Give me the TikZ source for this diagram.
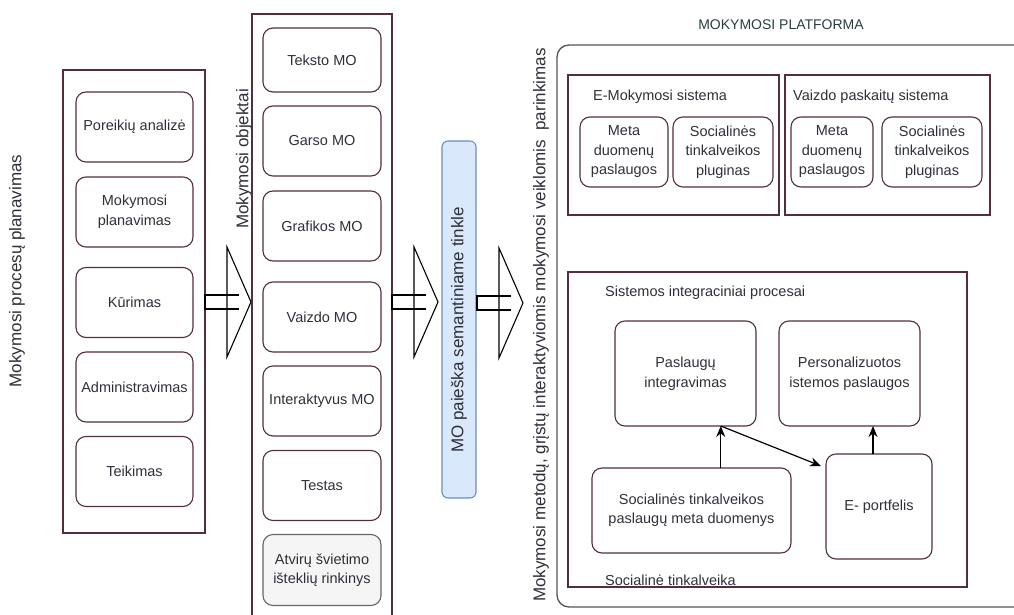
\documentclass[tikz,border=0pt]{standalone}
\usepackage{fontspec}
\setmainfont{Liberation Sans}
\usetikzlibrary{arrows.meta,calc}

\definecolor{frame}{RGB}{85,45,65}
\definecolor{ink}{RGB}{45,48,56}
\definecolor{titleink}{RGB}{40,62,66}
\definecolor{platgrey}{RGB}{85,85,85}
\definecolor{searchfill}{HTML}{DAE8FC}
\definecolor{searchline}{HTML}{6C8EBF}
\definecolor{oerfill}{HTML}{F5F5F5}
\definecolor{oerline}{HTML}{666666}

\tikzset{
  panel/.style={draw=frame, line width=1.1pt, inner sep=0pt, outer sep=0pt},
  item/.style={draw=frame, line width=1.1pt, rounded corners=10pt, align=center,
    text=ink, font=\fontsize{14.5}{19.5}\selectfont, inner sep=0pt, outer sep=0pt},
  vlabel/.style={rotate=90, text=ink, font=\fontsize{17}{20}\selectfont, inner sep=0pt},
  caption/.style={anchor=west, text=ink, font=\fontsize{14.5}{19.5}\selectfont, inner sep=0pt},
  flow/.style={draw=black, line width=1.2pt, -{Stealth[length=11pt,width=9pt]}},
  hollow/.style={draw=black, line width=1.1pt, line join=miter},
  pics/bigarrow/.style={code={
    \draw[hollow] (22,-55) -- (46,0) -- (22,55) -- cycle;
    \draw[hollow] (34,-7) -- (0,-7) -- (0,7) -- (34,7);
  }},
}

\begin{document}
\begin{tikzpicture}[x=1pt,y=-1pt]
\useasboundingbox (0,0) rectangle (1014,615);
\clip (0,0) rectangle (1014,615);

% ---- learning process planning ----
\node[vlabel] (plantitle) at (17,271) {Mokymosi procesų planavimas};
\node[panel, minimum width=142, minimum height=463] (planpanel) at (134,301.5) {};
\node[item, minimum width=117, minimum height=70] (needs) at (134.5,127) {Poreikių analizė};
\node[item, minimum width=117, minimum height=70] (plan) at (134.5,212) {Mokymosi\\planavimas};
\node[item, minimum width=117, minimum height=70] (create) at (134.5,302.5) {Kūrimas};
\node[item, minimum width=117, minimum height=70] (admin) at (134.5,387) {Administravimas};
\node[item, minimum width=117, minimum height=70] (deliver) at (134.5,471.5) {Teikimas};

\pic at (205,302) {bigarrow};

% ---- learning objects ----
\node[vlabel] (lotitle) at (244,159) {Mokymosi objektai};
\draw[frame, line width=1.1pt] (252,630) -- (252,14) -- (392,14) -- (392,630);
\node[item, minimum width=118, minimum height=64] (txt) at (322,60) {Teksto MO};
\node[item, minimum width=118, minimum height=70] (aud) at (322,141) {Garso MO};
\node[item, minimum width=118, minimum height=70] (gfx) at (322,226) {Grafikos MO};
\node[item, minimum width=118, minimum height=70] (vid) at (322,317) {Vaizdo MO};
\node[item, minimum width=118, minimum height=70] (inter) at (322,401) {Interaktyvus MO};
\node[item, minimum width=118, minimum height=70] (test) at (322,485.5) {Testas};
\node[item, draw=oerline, fill=oerfill, minimum width=118, minimum height=71] (oer) at (322,570)
  {Atvirų švietimo\\išteklių rinkinys};

\pic at (392,302) {bigarrow};

% ---- semantic search ----
\node[draw=searchline, fill=searchfill, line width=1.1pt, rounded corners=6pt,
  minimum width=34, minimum height=357, inner sep=0pt] (search) at (459,319.5) {};
\node[vlabel] (searchtxt) at (459,330) {MO paieška semantiniame tinkle};

\pic at (477,303) {bigarrow};

\node[vlabel] (methods) at (541,325)
  {Mokymosi metodų, grįstų interaktyviomis mokymosi veiklomis\ \ parinkimas};

% ---- learning platform ----
\node[text=titleink, font=\fontsize{14}{17}\selectfont, inner sep=0pt] (plattitle) at (781,25)
  {MOKYMOSI PLATFORMA};
\draw[platgrey, line width=1.3pt, rounded corners=12pt] (1040,45) -- (557,45) -- (557,607) -- (1040,607);

% e-learning system
\node[panel, minimum width=211, minimum height=140] (elearn) at (673.5,145) {};
\node[caption] (elearntitle) at (593,97) {E-Mokymosi sistema};
\node[item, minimum width=88, minimum height=70] (meta1) at (624,152) {Meta\\duomenų\\paslaugos};
\node[item, minimum width=100, minimum height=70] (soc1) at (723,152) {Socialinės\\tinkalveikos\\pluginas};

% video lecture system
\node[panel, minimum width=205, minimum height=140] (video) at (887.5,145) {};
\node[caption] (videotitle) at (793,97) {Vaizdo paskaitų sistema};
\node[item, minimum width=82, minimum height=70] (meta2) at (832,152) {Meta\\duomenų\\paslaugos};
\node[item, minimum width=100, minimum height=70] (soc2) at (932,152) {Socialinės\\tinkalveikos\\pluginas};

% social networking and integration
\node[panel, minimum width=399, minimum height=315] (social) at (767.5,429.5) {};
\node[caption] (integtitle) at (605,293) {Sistemos integraciniai procesai};
\node[caption] (socialtitle) at (605,580) {Socialinė tinkalveika};

\node[item, minimum width=141, minimum height=105] (integ) at (685.5,373.5) {Paslaugų\\integravimas};
\node[item, minimum width=141, minimum height=105] (pers) at (849.5,373.5) {Personalizuotos\\istemos paslaugos};
\node[item, minimum width=199, minimum height=85] (smeta) at (691.5,510.5)
  {Socialinės tinkalveikos\\paslaugų meta duomenys};
\node[item, minimum width=106, minimum height=105] (port) at (879,506.5) {E- portfelis};

\coordinate (joint) at ($(integ.south west)!0.75!(integ.south east)$);
\coordinate (porttip) at ($(port.north west)+(-5,12)$);

\draw[flow] (smeta.north -| joint) -- (joint);
\draw[flow] (joint) -- (porttip);
\draw[flow] ([xshift=-6pt]port.north) -- ([xshift=-6pt]port.north |- pers.south);

\end{tikzpicture}
\end{document}
